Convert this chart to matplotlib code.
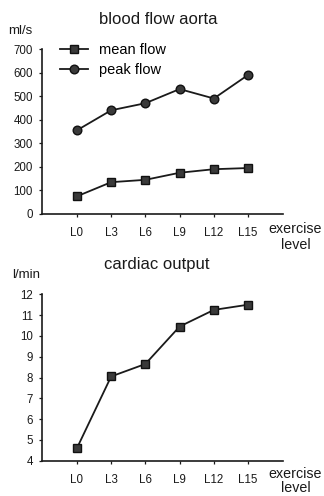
import matplotlib
matplotlib.use("Agg")
import matplotlib.pyplot as plt

plt.rcParams['font.family'] = ['Liberation Sans', 'DejaVu Sans']

levels = ["L0", "L3", "L6", "L9", "L12", "L15"]
mean_flow = [75, 135, 145, 175, 190, 195]
peak_flow = [355, 440, 470, 530, 490, 590]
cardiac_output = [4.6, 8.05, 8.65, 10.45, 11.25, 11.5]
flow_ticks = [0, 100, 200, 300, 400, 500, 600, 700]
co_ticks = [4, 5, 6, 7, 8, 9, 10, 11, 12]

W, H = 324, 496
fig = plt.figure(figsize=(W / 100, H / 100), dpi=100)
TXT = "#1a1a1a"

def style(ax):
    for s in ("top", "right"):
        ax.spines[s].set_visible(False)
    for s in ("left", "bottom"):
        ax.spines[s].set_linewidth(1.2)
        ax.spines[s].set_color(TXT)
    ax.tick_params(axis="both", direction="out", length=2.5, width=0.9,
                   labelsize=8.3, colors=TXT, pad=4)
    ax.tick_params(axis="x", pad=7)

x = list(range(len(levels)))

# top panel
ax1 = fig.add_axes([42 / W, 1 - 214 / H, (283 - 42) / W, (214 - 49) / H])
style(ax1)
ax1.plot(x, mean_flow, color=TXT, lw=1.3, marker="s", ms=5.5,
         mfc="#3a3a3a", mec="#111111", label="mean flow")
ax1.plot(x, peak_flow, color=TXT, lw=1.3, marker="o", ms=6.2,
         mfc="#3a3a3a", mec="#111111", label="peak flow")
ax1.set_xlim(-1.02, 6.02)
ax1.set_ylim(0, 700)
ax1.set_yticks(flow_ticks)
ax1.set_xticks(x)
ax1.set_xticklabels(levels)
ax1.legend(loc="upper left", bbox_to_anchor=(0.075, 1.035), frameon=False,
           fontsize=10.5, handlelength=1.9, handletextpad=0.8,
           labelspacing=0.4, borderaxespad=0, borderpad=0)
fig.text(158 / W, 1 - 19 / H, "blood flow aorta", ha="center", va="center",
         fontsize=12, color=TXT)
fig.text(8 / W, 1 - 31 / H, "ml/s", ha="left", va="center", fontsize=9.5,
         color=TXT)
fig.text(268 / W, 1 - 229 / H, "exercise", ha="left", va="center",
         fontsize=10.3, color=TXT)
fig.text(296 / W, 1 - 245 / H, "level", ha="center", va="center",
         fontsize=10.3, color=TXT)

# bottom panel
ax2 = fig.add_axes([42 / W, 1 - 460.7 / H, (283 - 42) / W, (460.7 - 294.3) / H])
style(ax2)
ax2.plot(x, cardiac_output, color=TXT, lw=1.3, marker="s", ms=5.5,
         mfc="#3a3a3a", mec="#111111")
ax2.set_xlim(-1.02, 6.02)
ax2.set_ylim(4, 12)
ax2.set_yticks(co_ticks)
ax2.set_xticks(x)
ax2.set_xticklabels(levels)
fig.text(157 / W, 1 - 265 / H, "cardiac output", ha="center", va="center",
         fontsize=12, color=TXT)
fig.text(12 / W, 1 - 275 / H, "l/min", ha="left", va="center", fontsize=9.5,
         color=TXT)
fig.text(268 / W, 1 - 474 / H, "exercise", ha="left", va="center",
         fontsize=10.3, color=TXT)
fig.text(296 / W, 1 - 488 / H, "level", ha="center", va="center",
         fontsize=10.3, color=TXT)

fig.savefig("out.png", dpi=100)
